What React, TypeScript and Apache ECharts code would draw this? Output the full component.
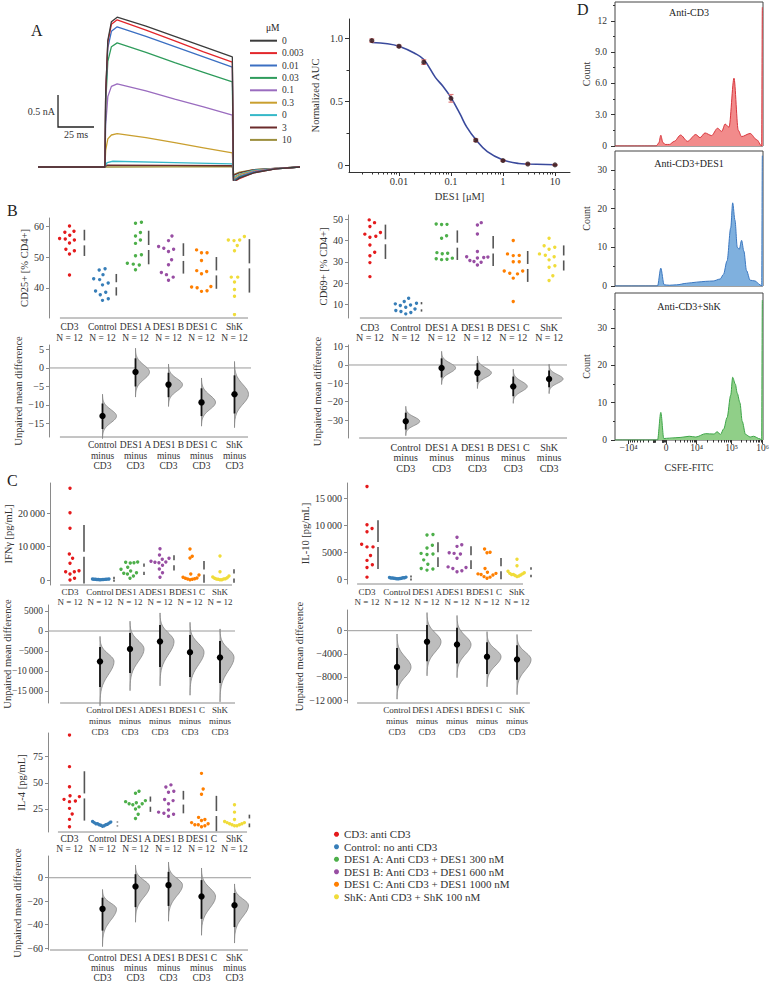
import React, { useEffect, useRef } from "react";
import * as echarts from "echarts";

const FONT = "'Liberation Serif', 'DejaVu Serif', serif";
const TXT = "#333333";
const AX = "#8a8a8a";

// ---------------- Panel A (left): currents ----------------
const TRACE_LABELS = ["0", "0.003", "0.01", "0.03", "0.1", "0.3", "0", "3", "10"];
const TRACE_COLORS = ["#3c3c3c", "#e3262b", "#3b6fc2", "#2f9c5c", "#9a6cbf", "#c99f2f", "#35b8c8", "#6b2b2b", "#9c8f3e"];
const TRACE_0 = [[0,0],[46.5,0],[47,1.15],[48.5,1.98],[51,2.27],[55,2.34],[75,2.2],[95,2.04],[115,1.88],[135,1.72],[135.8,-0.24],[140,-0.17],[150,-0.09],[165,-0.03],[182,0]];
const TRACE_1 = [[0,0],[46.5,0],[47,1.15],[48.5,1.95],[51,2.23],[55,2.30],[75,2.14],[95,1.97],[115,1.8],[135,1.64],[135.8,-0.24],[140,-0.18],[150,-0.09],[165,-0.03],[182,0]];
const TRACE_2 = [[0,0],[46.5,0],[47,1.1],[48.5,1.86],[51,2.12],[55,2.19],[75,2.04],[95,1.88],[115,1.72],[135,1.56],[135.8,-0.23],[140,-0.16],[150,-0.08],[165,-0.03],[182,0]];
const TRACE_3 = [[0,0],[46.5,0],[47,0.97],[48.5,1.65],[51,1.88],[55,1.94],[75,1.79],[95,1.63],[115,1.48],[135,1.33],[135.8,-0.22],[140,-0.15],[150,-0.08],[165,-0.03],[182,0]];
const TRACE_4 = [[0,0],[46.5,0],[47,0.65],[48.5,1.1],[51,1.26],[55,1.30],[75,1.19],[95,1.06],[115,0.94],[135,0.81],[135.8,-0.2],[140,-0.14],[150,-0.07],[165,-0.02],[182,0]];
const TRACE_5 = [[0,0],[46.5,0],[47,0.26],[48.5,0.44],[51,0.5],[55,0.52],[75,0.46],[95,0.38],[115,0.3],[135,0.22],[135.8,-0.18],[140,-0.12],[150,-0.06],[165,-0.02],[182,0]];
const TRACE_6 = [[0,0],[46.5,0],[48,0.07],[52,0.09],[95,0.07],[135,0.05],[135.8,-0.16],[140,-0.11],[150,-0.05],[165,-0.02],[182,0]];
const TRACE_7 = [[0,0],[46.5,0],[48,0.03],[95,0.025],[135,0.02],[135.8,-0.13],[140,-0.09],[150,-0.04],[182,0]];
const TRACE_8 = [[0,0],[46.5,0],[135,0.005],[135.8,-0.12],[140,-0.08],[150,-0.04],[182,0]];
const TRACES = [TRACE_0, TRACE_1, TRACE_2, TRACE_3, TRACE_4, TRACE_5, TRACE_6, TRACE_7, TRACE_8];
const SCALE_MS = 25;
const SCALE_NA = 0.5;

// ---------------- Panel A (right): dose response ----------------
const DOSE_CONC = [0.003, 0.01, 0.03, 0.1, 0.3, 1, 3, 10];
const DOSE_AUC = [0.98, 0.935, 0.81, 0.525, 0.195, 0.035, 0.008, 0.001];
const DOSE_ERR = [0.012, 0.008, 0.018, 0.03, 0.01, 0.006, 0.004, 0.003];
const FIT_CONC = [0.003, 0.006, 0.01, 0.02, 0.03, 0.05, 0.07, 0.1, 0.15, 0.2, 0.3, 0.5, 1, 2, 3, 10];
const FIT_AUC = [0.965, 0.955, 0.935, 0.88, 0.83, 0.69, 0.62, 0.53, 0.4, 0.3, 0.2, 0.105, 0.04, 0.012, 0.008, 0.002];
const DOSE_TICKS = [0.01, 0.1, 1, 10];
const DOSE_Y_TICKS = [0, 0.5, 1];

// ---------------- Panel D: CFSE histograms ----------------
const D_TICK_POS = [-1.14, 0, 0.93, 1.99, 2.93];
const D_TICK_LABELS = ["\u221210\u2074", "0", "10\u2074", "10\u2075", "10\u2076"];
const HIST_CD3 = [[-1.55,0],[-0.30,0],[-0.22,0.3],[-0.16,1.03],[-0.10,0.35],[-0.03,0.15],[0.10,0.15],[0.25,0.45],[0.44,1.05],[0.65,0.45],[0.90,1.1],[1.03,0.8],[1.18,1.25],[1.38,1.0],[1.56,1.7],[1.69,1.4],[1.79,2.1],[1.91,1.8],[2.06,6.5],[2.19,1.5],[2.29,0.9],[2.55,1.2],[2.75,0.6],[2.9,0],[2.92,13.3],[2.94,13.3]];
const HIST_DES1 = [[-1.55,0],[-0.26,0],[-0.16,4.6],[-0.06,0.3],[0.1,0.2],[0.32,0.3],[0.62,0.7],[0.93,1.0],[1.2,1.2],[1.43,1.3],[1.64,1.8],[1.74,3],[1.85,6.5],[1.96,15],[2.02,21.5],[2.09,17],[2.16,10],[2.22,9.5],[2.29,11.8],[2.36,9],[2.44,4],[2.55,1.5],[2.7,1.3],[2.85,0.3],[2.9,0],[2.92,33.7],[2.94,33.7]];
const HIST_SHK = [[-1.55,0],[-0.26,0],[-0.16,7.4],[-0.07,0.4],[0.1,0.5],[0.45,0.7],[0.7,1.0],[0.9,0.8],[1.2,1.7],[1.45,1.6],[1.55,2.2],[1.65,1.5],[1.75,3],[1.85,6],[1.96,12],[2.02,16.8],[2.1,15],[2.16,12.5],[2.24,10],[2.31,5],[2.41,1.5],[2.55,0.8],[2.65,1.0],[2.85,0.3],[2.9,0],[2.92,37.5],[2.94,37.5]];
const HIST_TITLES = ["Anti-CD3", "Anti-CD3+DES1", "Anti-CD3+ShK"];

// ---------------- Panels B & C: estimation plots ----------------
const GROUPS = ["CD3", "Control", "DES1 A", "DES1 B", "DES1 C", "ShK"];
const GROUP_LABELS = [
  "CD3: anti CD3",
  "Control: no anti CD3",
  "DES1 A: Anti CD3 + DES1 300 nM",
  "DES1 B: Anti CD3 + DES1 600 nM",
  "DES1 C: Anti CD3 + DES1 1000 nM",
  "ShK: Anti CD3 + ShK 100 nM",
];
const GROUP_COLORS = ["#e41a1c", "#377eb8", "#4daf4a", "#984ea3", "#ff7f00", "#f0dc3a"];

const CD25_VALUES = [
  [60.0, 58.3, 58.0, 57.0, 56.0, 55.8, 55.5, 54.5, 52.5, 52.0, 51.0, 44.2],
  [46.2, 45.8, 44.3, 43.0, 42.7, 41.6, 41.0, 39.0, 38.6, 37.8, 36.5, 36.0],
  [61.2, 60.9, 57.9, 56.8, 55.5, 54.4, 50.7, 50.4, 48.0, 47.7, 47.4, 45.9],
  [56.8, 55.3, 53.4, 52.8, 52.5, 51.8, 49.1, 47.5, 45.0, 44.3, 43.5, 42.5],
  [52.3, 51.4, 51.4, 48.9, 45.6, 45.3, 44.6, 40.5, 40.3, 40.1, 39.1, 38.9],
  [56.6, 55.5, 55.3, 55.5, 53.7, 52.0, 43.5, 43.5, 41.9, 39.5, 37.3, 31.4],
];
const CD25_DIFF = [[-13.0, -16.5, -9.6], [-1.1, -5.0, 2.6], [-4.5, -7.9, -1.3], [-9.3, -13.0, -5.5], [-7.1, -12.3, -2.0]];

const CD69_VALUES = [
  [49.7, 48.4, 46.6, 43.0, 43.8, 41.5, 42.0, 37.9, 34.5, 32.8, 29.6, 23.0],
  [12.8, 11.3, 10.5, 10.2, 9.7, 9.4, 8.6, 7.8, 7.1, 6.6, 6.1, 5.5],
  [47.8, 47.6, 47.5, 42.2, 41.1, 34.3, 34.0, 33.8, 31.7, 31.4, 31.2, 31.0],
  [48.4, 47.3, 43.1, 34.8, 32.4, 32.2, 32.0, 31.8, 30.6, 30.1, 29.8, 28.5],
  [40.0, 33.0, 33.7, 32.9, 30.0, 30.0, 25.7, 25.7, 24.6, 24.3, 22.3, 11.3],
  [41.1, 35.9, 36.8, 37.5, 33.7, 32.4, 33.1, 30.9, 28.1, 27.4, 23.4, 21.2],
];
const CD69_DIFF = [[-30.7, -35.2, -26.0], [-1.6, -6.8, 3.6], [-4.3, -9.2, 1.0], [-11.7, -17.0, -6.3], [-7.6, -12.2, -3.0]];

const IFN_VALUES = [
  [27500, 20200, 15500, 7800, 6500, 5000, 2800, 2500, 2500, 1800, 500, 0],
  [320, 280, 260, 240, 220, 200, 180, 160, 150, 130, 110, 90],
  [5400, 5300, 5200, 5100, 3800, 3200, 2700, 2200, 2000, 1800, 1200, 500],
  [9400, 7500, 6500, 6200, 5600, 5400, 5300, 5200, 4400, 3300, 2200, 800],
  [9300, 7100, 6600, 1800, 1500, 800, 600, 500, 400, 300, 200, 100],
  [7200, 2500, 1200, 900, 700, 500, 400, 300, 300, 200, 100, 100],
];
const IFN_DIFF = [[-7600, -14000, -4000], [-4500, -10500, -500], [-2600, -9000, 1500], [-5300, -11500, -1000], [-6600, -13000, -2500]];

const IL10_VALUES = [
  [17200, 10100, 9400, 8800, 6500, 6000, 6000, 4400, 3500, 2700, 2200, 400],
  [400, 350, 300, 300, 250, 250, 200, 200, 150, 150, 100, 100],
  [8300, 8200, 6300, 5800, 4800, 4700, 4600, 3600, 2800, 2000, 1900, 1700],
  [7800, 6400, 6100, 4900, 4800, 4700, 3900, 2300, 2200, 2000, 1600, 1400],
  [5600, 5000, 4900, 2000, 1300, 1100, 1000, 900, 800, 500, 400, 200],
  [3700, 2500, 1500, 1200, 1100, 1000, 900, 900, 800, 700, 600, 500],
];
const IL10_DIFF = [[-6300, -9500, -3000], [-1900, -5300, 1000], [-2400, -5700, 500], [-4500, -7500, -2000], [-5000, -8500, -2500]];

const IL4_VALUES = [
  [95.5, 65.4, 46.3, 37.7, 36.8, 34.2, 32.6, 32.0, 25.6, 20.2, 15.1, 8.1],
  [13, 12.5, 12, 11.5, 11, 11, 10.5, 10, 10, 9.5, 9, 8.5],
  [42, 40, 33, 32, 31, 30, 30, 29, 27, 25, 20, 16],
  [48, 46, 42, 41, 34, 33, 30, 24, 22, 21, 20, 18],
  [59, 44, 39, 17, 15, 14, 12, 11, 10, 10, 9, 8],
  [29, 22, 15, 13, 12, 12, 11, 11, 10, 10, 9, 9],
];
const IL4_DIFF = [[-26.5, -45, -17], [-7.5, -25, 3], [-6.3, -24, 5], [-16, -35, -2], [-23.5, -42, -13]];

// ---------------- helpers ----------------
function fmtNum(v: number): string {
  const a = Math.abs(v);
  const s = a >= 10000 ? String(a).replace(/\B(?=(\d{3})+(?!\d))/g, "\u2009") : String(a);
  return (v < 0 ? "\u2212" : "") + s;
}
function mean(a: number[]) { return a.reduce((s, v) => s + v, 0) / a.length; }
function stdev(a: number[]) { const m = mean(a); return Math.sqrt(a.reduce((s, v) => s + (v - m) * (v - m), 0) / (a.length - 1)); }

function swarmOffsets(vals: number[], ppu: number, d: number): number[] {
  const idx = vals.map((_, i) => i).sort((a, b) => vals[a] - vals[b]);
  const placed: { x: number; y: number }[] = [];
  const out = new Array(vals.length).fill(0);
  for (const i of idx) {
    const y = vals[i] * ppu;
    const cands = [0];
    for (const p of placed) {
      const dy = Math.abs(p.y - y);
      if (dy < d) { const dx = Math.sqrt(d * d - dy * dy); cands.push(p.x + dx, p.x - dx); }
    }
    cands.sort((a, b) => Math.abs(a) - Math.abs(b) || b - a);
    let chosen = 0;
    for (const c of cands) {
      let ok = true;
      for (const p of placed) {
        const dx = p.x - c, dy = p.y - y;
        if (dx * dx + dy * dy < d * d - 1e-6) { ok = false; break; }
      }
      if (ok) { chosen = c; break; }
    }
    placed.push({ x: chosen, y });
    out[i] = chosen;
  }
  return out;
}

const lblStyle = { color: TXT, fontFamily: FONT, fontSize: 10 };
const nameStyle = { color: TXT, fontFamily: FONT, fontSize: 10.5 };

function buildOption() {
  const grid: any[] = [];
  const xAxis: any[] = [];
  const yAxis: any[] = [];
  const series: any[] = [];
  const addGrid = (g: any) => grid.push({ ...g, containLabel: false, outerBoundsMode: "none" }) - 1;

  // ---------- A: traces ----------
  const gT = addGrid({ left: 38, top: 10, width: 262, height: 170 });
  const xT = xAxis.push({ gridIndex: gT, type: "value", min: 0, max: 182, show: false }) - 1;
  const yT = yAxis.push({ gridIndex: gT, type: "value", min: -0.203, max: 2.453, show: false }) - 1;
  TRACES.forEach((tr, i) => {
    series.push({
      type: "line", name: "trace" + i, xAxisIndex: xT, yAxisIndex: yT, data: tr,
      symbol: "none", showSymbol: false, silent: true, z: 20 - i,
      lineStyle: { color: TRACE_COLORS[i], width: 1.3 }, itemStyle: { color: TRACE_COLORS[i] },
    });
  });
  series.push({
    type: "custom", xAxisIndex: xT, yAxisIndex: yT, silent: true,
    data: [[13.9, 0.625, SCALE_MS, SCALE_NA]], encode: { x: 0, y: 1 },
    renderItem: (p: any, api: any) => {
      const t0 = api.value(0), y0 = api.value(1), dt = api.value(2), dy = api.value(3);
      const top = api.coord([t0, y0 + dy]), c = api.coord([t0, y0]), r = api.coord([t0 + dt, y0]);
      return {
        type: "group", children: [
          { type: "polyline", shape: { points: [top, c, r] }, style: { stroke: "#222", lineWidth: 1.3, fill: null } },
          { type: "text", x: c[0] - 3, y: (top[1] + c[1]) / 2, style: { text: `${dy} nA`, fill: TXT, font: `10px ${FONT}`, align: "right", verticalAlign: "middle" } },
          { type: "text", x: (c[0] + r[0]) / 2, y: c[1] + 2, style: { text: `${dt} ms`, fill: TXT, font: `10px ${FONT}`, align: "center", verticalAlign: "top" } },
        ],
      };
    },
  });

  // ---------- A: dose response ----------
  const gD = addGrid({ left: 349, top: 19, width: 221, height: 153 });
  const xD = xAxis.push({
    gridIndex: gD, type: "log", logBase: 10, min: 0.001093, max: 19.44, position: "bottom",
    axisLine: { onZero: false, lineStyle: { color: "#333" } },
    axisTick: { length: 4, customValues: DOSE_TICKS, lineStyle: { color: "#333" } },
    axisLabel: { customValues: DOSE_TICKS, formatter: (v: number) => String(+Number(v).toPrecision(6)), margin: 4, ...lblStyle, fontSize: 10.5 },
    splitLine: { show: false }, minorTick: { show: false },
    name: "DES1 [\u03bcM]", nameLocation: "middle", nameGap: 19, nameTextStyle: nameStyle,
  }) - 1;
  const doseMinor: number[] = [];
  for (let e = -3; e <= 1; e++) for (let k = 2; k <= 9; k++) { const v = +(k * Math.pow(10, e)).toPrecision(3); if (v > 0.0011 && v < 19.4) doseMinor.push(v); }
  xAxis.push({
    gridIndex: gD, type: "log", logBase: 10, min: 0.001093, max: 19.44, position: "bottom",
    axisLine: { show: false, onZero: false }, axisLabel: { show: false }, splitLine: { show: false },
    axisTick: { length: 2.5, customValues: doseMinor, lineStyle: { color: "#333" } },
  });
  const yD = yAxis.push({
    gridIndex: gD, type: "value", min: -0.055, max: 1.1496, position: "left",
    axisLine: { show: true, onZero: false, lineStyle: { color: "#333" } },
    axisTick: { length: 4, customValues: DOSE_Y_TICKS, lineStyle: { color: "#333" } },
    axisLabel: { customValues: DOSE_Y_TICKS, formatter: (v: number) => (v === 0 ? "0" : v.toFixed(1)), margin: 6, ...lblStyle, fontSize: 10.5 },
    splitLine: { show: false },
    name: "Normalized AUC", nameLocation: "middle", nameRotate: 90, nameGap: 28, nameTextStyle: nameStyle,
  }) - 1;
  yAxis.push({
    gridIndex: gD, type: "value", min: -0.055, max: 1.1496, position: "left",
    axisLine: { show: false, onZero: false }, axisLabel: { show: false }, splitLine: { show: false },
    axisTick: { length: 2.5, customValues: [0.25, 0.75], lineStyle: { color: "#333" } },
  });
  series.push({
    type: "line", xAxisIndex: xD, yAxisIndex: yD, smooth: 0.4, symbol: "none", silent: true,
    data: FIT_CONC.map((c, i) => [c, FIT_AUC[i]]), lineStyle: { color: "#3a4a9c", width: 1.6 }, z: 3,
  });
  series.push({
    type: "custom", xAxisIndex: xD, yAxisIndex: yD, silent: true, z: 4, encode: { x: 0, y: 1 },
    data: DOSE_CONC.map((c, i) => [c, DOSE_AUC[i], DOSE_ERR[i]]),
    renderItem: (p: any, api: any) => {
      const x = api.value(0), y = api.value(1), e = api.value(2);
      const a = api.coord([x, y + e]), b = api.coord([x, y - e]);
      const st = { stroke: "#e07a7a", lineWidth: 1.2 };
      return {
        type: "group", children: [
          { type: "line", shape: { x1: a[0], y1: a[1], x2: b[0], y2: b[1] }, style: st },
          { type: "line", shape: { x1: a[0] - 2.5, y1: a[1], x2: a[0] + 2.5, y2: a[1] }, style: st },
          { type: "line", shape: { x1: b[0] - 2.5, y1: b[1], x2: b[0] + 2.5, y2: b[1] }, style: st },
        ],
      };
    },
  });
  series.push({
    type: "scatter", xAxisIndex: xD, yAxisIndex: yD, symbolSize: 5, silent: true, z: 5,
    data: DOSE_CONC.map((c, i) => [c, DOSE_AUC[i]]), itemStyle: { color: "#2a1216" },
  });

  // ---------- D: histograms ----------
  const hists = [
    { data: HIST_CD3, top: 2, height: 144, max: 13.8, ticks: [0, 3, 6, 9, 12], minor: [1.5, 4.5, 7.5, 10.5, 13.5], line: "#d8353c", fill: "#f28b8b" },
    { data: HIST_DES1, top: 151, height: 135, max: 34.9, ticks: [0, 10, 20, 30], minor: [5, 15, 25], line: "#3c78c0", fill: "#7fb0de" },
    { data: HIST_SHK, top: 293, height: 147, max: 39.4, ticks: [0, 10, 20, 30], minor: [5, 15, 25, 35], line: "#3ea549", fill: "#90cf88" },
  ];
  const dMinorX: number[] = [];
  for (let k = 2; k <= 9; k++) {
    const f = Math.log10(k);
    dMinorX.push(D_TICK_POS[2] + f * (D_TICK_POS[3] - D_TICK_POS[2]));
    dMinorX.push(D_TICK_POS[3] + f * (D_TICK_POS[4] - D_TICK_POS[3]));
    dMinorX.push(D_TICK_POS[1] + f * (D_TICK_POS[2] - D_TICK_POS[1]));
    dMinorX.push(D_TICK_POS[1] + f * (D_TICK_POS[0] - D_TICK_POS[1]));
    dMinorX.push(D_TICK_POS[1] - 0.12 * f);
    dMinorX.push(D_TICK_POS[1] - 0.3 - 0.1 * f);
  }
  hists.forEach((h, i) => {
    const g = addGrid({ left: 615, top: h.top, width: 148, height: h.height, show: true, borderColor: "#444", borderWidth: 1, backgroundColor: "transparent" });
    const last = i === 2;
    const xi = xAxis.push({
      gridIndex: g, type: "value", min: -1.55, max: 2.94, position: "bottom",
      axisLine: { show: false, onZero: false }, splitLine: { show: false },
      axisTick: { show: last, length: 4, customValues: D_TICK_POS, lineStyle: { color: "#333" } },
      axisLabel: {
        show: last, customValues: D_TICK_POS, margin: 3, ...lblStyle, fontSize: 9.5,
        formatter: (v: number) => { const k = D_TICK_POS.findIndex((p) => Math.abs(p - v) < 1e-6); return k >= 0 ? D_TICK_LABELS[k] : ""; },
      },
      name: last ? "CSFE-FITC" : "", nameLocation: "middle", nameGap: 22, nameTextStyle: { ...nameStyle, fontSize: 10 },
    }) - 1;
    if (last) {
      xAxis.push({
        gridIndex: g, type: "value", min: -1.55, max: 2.94, position: "bottom",
        axisLine: { show: false, onZero: false }, axisLabel: { show: false }, splitLine: { show: false },
        axisTick: { length: 2.5, customValues: dMinorX, lineStyle: { color: "#333" } },
      });
    }
    const yi = yAxis.push({
      gridIndex: g, type: "value", min: 0, max: h.max, position: "left",
      axisLine: { show: false, onZero: false }, splitLine: { show: false },
      axisTick: { length: 4, customValues: h.ticks, lineStyle: { color: "#333" } },
      axisLabel: { customValues: h.ticks, margin: 8, ...lblStyle, fontSize: 9.5, formatter: (v: number) => (v === 0 ? "0" : v >= 10 ? String(v) : v.toFixed(1)) },
      name: "Count", nameLocation: "middle", nameRotate: 90, nameGap: 24, nameTextStyle: { ...nameStyle, fontSize: 10 },
    }) - 1;
    yAxis.push({
      gridIndex: g, type: "value", min: 0, max: h.max, position: "left",
      axisLine: { show: false, onZero: false }, axisLabel: { show: false }, splitLine: { show: false },
      axisTick: { length: 2, customValues: h.minor, lineStyle: { color: "#333" } },
    });
    series.push({
      type: "line", xAxisIndex: xi, yAxisIndex: yi, data: h.data, symbol: "none", silent: true,
      smooth: 0.3, smoothMonotone: "x",
      lineStyle: { color: h.line, width: 1 }, areaStyle: { color: h.fill, opacity: 1 },
    });
  });

  // ---------- B & C ----------
  const valueY = (g: number, L: any, name: string) => ({
    gridIndex: g, type: "value", min: L.yMin, max: L.yMax, offset: L.yOffset, position: "left",
    splitLine: { show: false },
    axisLine: { show: true, onZero: false, lineStyle: { color: AX } },
    axisTick: { show: true, length: 3, customValues: L.ticks, lineStyle: { color: AX } },
    axisLabel: { customValues: L.ticks, formatter: (v: number) => fmtNum(v), margin: 5, ...lblStyle, fontSize: L.tfs || 10 },
    name, nameLocation: "middle", nameRotate: 90, nameGap: L.nameGap, nameTextStyle: nameStyle,
    ...(L.noMove ? { nameMoveOverlap: false } : {}),
  });

  const xLineSeries = (xi: number, yi: number, L: any) => ({
    type: "custom", xAxisIndex: xi, yAxisIndex: yi, silent: true, encode: { x: 0, y: 1 },
    data: [[0, L.yMin]],
    renderItem: (p: any, api: any) => {
      const y0 = api.value(1);
      const a = api.coord([0, y0]), b = api.coord([5, y0]);
      const bw = api.size([1, 0])[0];
      return { type: "line", shape: { x1: a[0] - L.line[0] * bw, y1: a[1], x2: b[0] + L.line[1] * bw, y2: b[1] }, style: { stroke: AX, lineWidth: 1 } };
    },
  });

  const addSwarm = (values: number[][], name: string, L: any) => {
    const g = addGrid({ left: L.left, top: L.top, width: L.width, height: L.height });
    const xi = xAxis.push({
      gridIndex: g, type: "category", data: GROUPS, position: "bottom",
      axisLine: { show: false, onZero: false }, axisTick: { show: false },
      axisLabel: { interval: 0, margin: L.lblMargin, lineHeight: L.lh, ...lblStyle, fontSize: L.fs, formatter: (v: string, i: number) => `${v}\nN = ${values[i].length}` },
    }) - 1;
    const yi = yAxis.push(valueY(g, L, name)) - 1;
    const ppu = L.height / (L.yMax - L.yMin);
    const band = L.width / GROUPS.length;
    const maxW = 0.3 * band;
    const barData: number[][] = [];
    values.forEach((vals, gi) => {
      let offs = swarmOffsets(vals, ppu, 6);
      const mx = Math.max(...offs.map(Math.abs));
      if (mx > maxW) offs = offs.map((o) => (o * maxW) / mx);
      const mx2 = Math.max(...offs.map(Math.abs));
      barData.push([gi, mean(vals), stdev(vals), Math.max(mx2 + 5, 10)]);
      const col = GROUP_COLORS[gi];
      series.push({
        type: "custom", name: GROUP_LABELS[gi], xAxisIndex: xi, yAxisIndex: yi, silent: true, z: 3,
        itemStyle: { color: col }, encode: { x: 0, y: 1 },
        data: vals.map((v, k) => [gi, v, offs[k]]),
        renderItem: (p: any, api: any) => {
          const c = api.coord([api.value(0), api.value(1)]);
          return { type: "circle", shape: { cx: c[0] + api.value(2), cy: c[1], r: 1.7 }, style: { fill: col } };
        },
      });
    });
    series.push({
      type: "custom", xAxisIndex: xi, yAxisIndex: yi, silent: true, z: 2, encode: { x: 0, y: 1 },
      data: barData,
      renderItem: (p: any, api: any) => {
        const gi = api.value(0), m = api.value(1), sd = api.value(2), off = api.value(3);
        const t = api.coord([gi, m + sd]), c = api.coord([gi, m]), b = api.coord([gi, m - sd]);
        const x = c[0] + off;
        const st = { stroke: "#555", lineWidth: 1.6 };
        return {
          type: "group", children: [
            { type: "line", shape: { x1: x, y1: t[1], x2: x, y2: c[1] - 2.5 }, style: st },
            { type: "line", shape: { x1: x, y1: c[1] + 2.5, x2: x, y2: b[1] }, style: st },
          ],
        };
      },
    });
    series.push(xLineSeries(xi, yi, L));
  };

  const addDiff = (diff: number[][], L: any) => {
    const g = addGrid({ left: L.left, top: L.top, width: L.width, height: L.height });
    const xi = xAxis.push({
      gridIndex: g, type: "category", data: GROUPS, position: "bottom",
      axisLine: { show: false, onZero: false }, axisTick: { show: false },
      axisLabel: { interval: 0, margin: L.lblMargin, lineHeight: L.lh, ...lblStyle, fontSize: L.fs, formatter: (v: string, i: number) => (i === 0 ? "" : `${v}\nminus\n${GROUPS[0]}`) },
    }) - 1;
    const yi = yAxis.push(valueY(g, L, "Unpaired mean difference")) - 1;
    series.push({
      type: "custom", xAxisIndex: xi, yAxisIndex: yi, silent: true, z: 1, encode: { x: 0, y: 1 },
      data: [[0, 0]],
      renderItem: (p: any, api: any) => {
        const cs = p.coordSys;
        const y = api.coord([0, api.value(1)])[1];
        return { type: "line", shape: { x1: cs.x - L.yOffset, y1: y, x2: cs.x + cs.width, y2: y }, style: { stroke: "#9a9a9a", lineWidth: 1 } };
      },
    });
    series.push({
      type: "custom", xAxisIndex: xi, yAxisIndex: yi, silent: true, z: 3, encode: { x: 0, y: 1 },
      data: diff.map((d, k) => [k + 1, d[0], d[1], d[2]]),
      renderItem: (p: any, api: any) => {
        const gi = api.value(0), m = api.value(1), lo = api.value(2), hi = api.value(3);
        const sdL = (m - lo) / 1.96, sdH = (hi - m) / 1.96;
        const c = api.coord([gi, m]);
        const top = m + 3.4 * sdH, bot = m - 3.4 * sdL;
        const pts: number[][] = [];
        const N = 48;
        for (let i = 0; i <= N; i++) {
          const v = top + ((bot - top) * i) / N;
          const z = v >= m ? (v - m) / sdH : (m - v) / sdL;
          const w = 14 * Math.exp(-0.5 * z * z);
          pts.push([c[0] + w, api.coord([gi, v])[1]]);
        }
        pts.push([c[0], api.coord([gi, bot])[1]]);
        pts.push([c[0], api.coord([gi, top])[1]]);
        const l = api.coord([gi, lo]), h = api.coord([gi, hi]);
        return {
          type: "group", children: [
            { type: "polygon", shape: { points: pts }, style: { fill: "#bdbdbd", stroke: "#858585", lineWidth: 0.8 } },
            { type: "line", shape: { x1: c[0], y1: l[1], x2: c[0], y2: h[1] }, style: { stroke: "#111", lineWidth: 1.8 } },
            { type: "circle", shape: { cx: c[0], cy: c[1], r: 3.2 }, style: { fill: "#000" } },
          ],
        };
      },
    });
    series.push(xLineSeries(xi, yi, L));
  };

  // B left: CD25
  addSwarm(CD25_VALUES, "CD25+ [% CD4+]", { left: 53, top: 218, width: 198, height: 100, yMin: 30.3, yMax: 62.6, ticks: [40, 50, 60], nameGap: 19, yOffset: 4, line: [0.29, 0.41], lblMargin: 4, lh: 10.5, fs: 9.5 });
  addDiff(CD25_DIFF, { left: 53, top: 345, width: 198, height: 92, yMin: -18.65, yMax: 6.2, ticks: [-15, -10, -5, 0, 5], nameGap: 22, yOffset: 4, line: [0.29, 0.41], lblMargin: 3, lh: 10.5, fs: 9.5 });
  // B right: CD69
  addSwarm(CD69_VALUES, "CD69+ [% CD4+]", { left: 352, top: 215, width: 215, height: 103, yMin: 3.55, yMax: 52.0, ticks: [10, 20, 30, 40, 50], nameGap: 19, yOffset: 4, line: [0.28, 0.36], lblMargin: 4, lh: 10, fs: 10 });
  addDiff(CD69_DIFF, { left: 352, top: 345, width: 215, height: 93, yMin: -39.8, yMax: 10.9, ticks: [-40, -30, -20, -10, 0, 10], nameGap: 23, yOffset: 4, line: [0.3, 0.5], lblMargin: 4, lh: 10.5, fs: 10 });
  // C: IFNγ
  addSwarm(IFN_VALUES, "IFN\u03b3 [pg/mL]", { left: 55, top: 483, width: 180, height: 102, yMin: -1500, yMax: 29100, ticks: [0, 10000, 20000], nameGap: 33, yOffset: 5, line: [0.33, 0.4], lblMargin: 2, lh: 10, fs: 9 });
  addDiff(IFN_DIFF, { left: 55, top: 605, width: 180, height: 98, yMin: -18000, yMax: 6500, ticks: [-15000, -10000, -5000, 0, 5000], nameGap: 35, yOffset: 7, line: [0.33, 0.5], lblMargin: 1, lh: 11, fs: 9, tfs: 9.5, noMove: true });
  // C: IL-10
  addSwarm(IL10_VALUES, "IL-10 [pg/mL]", { left: 352, top: 483, width: 180, height: 101, yMin: -870, yMax: 17833, ticks: [0, 5000, 10000, 15000], nameGap: 29, yOffset: 5, line: [0.33, 0.2], lblMargin: 3, lh: 10, fs: 9 });
  addDiff(IL10_DIFF, { left: 352, top: 610, width: 180, height: 93, yMin: -12519, yMax: 3584, ticks: [-12000, -8000, -4000, 0], nameGap: 36, yOffset: 5, line: [0.33, 0.43], lblMargin: 1, lh: 11, fs: 9 });
  // C: IL-4
  addSwarm(IL4_VALUES, "IL-4 [pg/mL]", { left: 53, top: 733, width: 198, height: 99, yMin: 3.05, yMax: 97.5, ticks: [25, 50, 75], nameGap: 21, yOffset: 5, line: [0.35, 0.38], lblMargin: 2, lh: 10, fs: 9.5 });
  addDiff(IL4_DIFF, { left: 53, top: 856, width: 198, height: 94, yMin: -61.5, yMax: 18.5, ticks: [-60, -40, -20, 0], nameGap: 23, yOffset: 5, line: [0.59, 0.41], lblMargin: 3, lh: 10, fs: 9.5 });

  const txt = (text: string, x: number, y: number, size: number, align = "left", vAlign = "top") => ({
    type: "text", x, y, silent: true,
    style: { text, fill: "#222", font: `${size}px ${FONT}`, align, verticalAlign: vAlign, textAlign: align, textVerticalAlign: vAlign },
  });

  return {
    animation: false,
    backgroundColor: "#ffffff",
    textStyle: { fontFamily: FONT },
    grid, xAxis, yAxis, series,
    legend: [
      {
        data: TRACES.map((_, i) => "trace" + i), orient: "vertical", left: 250, top: 35, padding: 0,
        itemWidth: 27, itemHeight: 2, icon: "rect", itemGap: 1, selectedMode: false,
        formatter: (n: string) => TRACE_LABELS[Number(n.slice(5))],
        textStyle: { fontFamily: FONT, fontSize: 9.5, lineHeight: 11.4, color: TXT },
      },
      {
        data: GROUP_LABELS, orient: "vertical", left: 334, top: 828.5, padding: 0,
        itemWidth: 5, itemHeight: 5, icon: "circle", itemGap: 1, selectedMode: false,
        textStyle: { fontFamily: FONT, fontSize: 11, lineHeight: 11.5, color: TXT },
      },
    ],
    graphic: [
      txt("A", 31, 22, 16),
      txt("B", 7, 202, 16),
      txt("C", 7, 472, 16),
      txt("D", 577, 1, 16),
      txt("\u03bcM", 266, 23, 9.5),
      txt(HIST_TITLES[0], 689, 12, 10, "center", "middle"),
      txt(HIST_TITLES[1], 689, 163, 10, "center", "middle"),
      txt(HIST_TITLES[2], 689, 306, 10, "center", "middle"),
    ],
  };
}

export default function App() {
  const ref = useRef<HTMLDivElement>(null);
  useEffect(() => {
    if (!ref.current) return;
    const chart = echarts.init(ref.current, undefined, { renderer: "svg", width: 770, height: 982 });
    chart.setOption(buildOption() as any);
    return () => chart.dispose();
  }, []);
  return <div ref={ref} style={{ position: "absolute", left: 0, top: 0, width: 770, height: 982, background: "#fff" }} />;
}
